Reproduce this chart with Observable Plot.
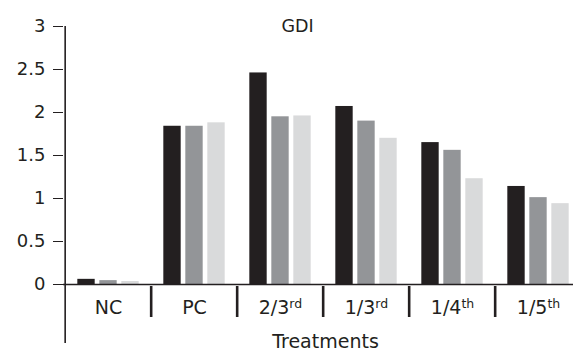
<!DOCTYPE html>
<html>
<head>
<meta charset="utf-8">
<script src="https://cdn.jsdelivr.net/npm/d3@7"></script>
<script src="https://cdn.jsdelivr.net/npm/@observablehq/plot@0.6"></script>
<style>
  html, body { margin: 0; padding: 0; background: #fff; overflow: hidden; }
</style>
</head>
<body>
<div id="chart"></div>
<script>
const categories = ["NC", "PC", "2/3rd", "1/3rd", "1/4th", "1/5th"];
const series = ["Series 1", "Series 2", "Series 3"];
const valuesS1 = [0.06, 1.84, 2.46, 2.07, 1.65, 1.14];
const valuesS2 = [0.045, 1.84, 1.95, 1.90, 1.56, 1.01];
const valuesS3 = [0.035, 1.88, 1.96, 1.70, 1.23, 0.94];
const yTicks = [0, 0.5, 1, 1.5, 2, 2.5, 3];
const title = "GDI";
const xLabel = "Treatments";
const colors = ["#231f20", "#939598", "#d9dadb"];

const allValues = [valuesS1, valuesS2, valuesS3];
const data = categories.flatMap((c, i) =>
  series.map((s, j) => ({cat: c, series: s, value: allValues[j][i]}))
);

const W = 573, H = 351;
const xRange = [63, 583];
const bw = (xRange[1] - xRange[0]) / categories.length;
const inner = d3.scaleBand(series, [0, bw]).paddingInner(0.18).paddingOuter(0.56);
const ink = "#231f20";

const barMarks = series.map((s, j) =>
  Plot.barY(data.filter(d => d.series === s), {
    x: "cat", y: "value", fill: colors[j],
    insetLeft: inner(s),
    insetRight: bw - inner(s) - inner.bandwidth()
  })
);

const plot = Plot.plot({
  width: W,
  height: H,
  marginLeft: 63,
  marginRight: 0,
  marginTop: 26,
  marginBottom: 8,
  style: {fontFamily: "DejaVu Sans", fontSize: "18px", color: ink, background: "#fff"},
  x: {domain: categories, range: xRange, padding: 0, axis: null},
  y: {domain: [0, 3], range: [284, 26], ticks: yTicks, tickSize: 10, tickPadding: 8,
      tickFormat: d => String(d), label: null},
  marks: [
    ...barMarks,
    // y axis line (full height of the frame)
    Plot.ruleX([categories[0]], {dx: -bw / 2, stroke: ink, strokeWidth: 1.6}),
    // category separators below the baseline
    Plot.ruleX(categories.slice(1), {dx: -bw / 2, stroke: ink, strokeWidth: 2.6,
      insetTop: 260, insetBottom: 26}),
    Plot.ruleY([0], {stroke: ink, strokeWidth: 1.5}),
    Plot.text(categories, {x: d => d, frameAnchor: "bottom", lineAnchor: "bottom",
      dy: -30, fill: ink, fontSize: 19}),
    Plot.text([xLabel], {frameAnchor: "bottom", lineAnchor: "bottom", dy: 4, dx: 7,
      fill: ink, fontSize: 19}),
    Plot.text([title], {frameAnchor: "top", lineAnchor: "bottom", dy: 5, dx: -21,
      fill: ink, fontSize: 17.5})
  ]
});

// superscript ordinal suffixes
plot.querySelectorAll("text").forEach(t => {
  const m = /^(\d\/\d)(rd|th)$/.exec(t.textContent);
  if (m) {
    t.textContent = "";
    const a = document.createElementNS("http://www.w3.org/2000/svg", "tspan");
    a.textContent = m[1];
    const b = document.createElementNS("http://www.w3.org/2000/svg", "tspan");
    b.textContent = m[2];
    b.setAttribute("font-size", "12.5");
    b.setAttribute("dy", "-6");
    t.appendChild(a);
    t.appendChild(b);
  }
});

document.getElementById("chart").appendChild(plot);
</script>
</body>
</html>
